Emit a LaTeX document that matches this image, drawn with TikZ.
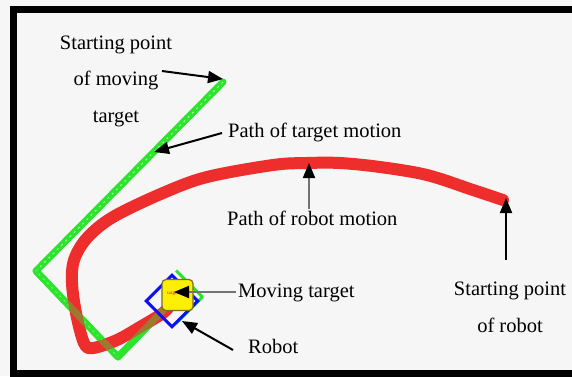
\documentclass[tikz,border=0pt]{standalone}
\usepackage{fontspec}
\setmainfont{Liberation Serif}
\usetikzlibrary{arrows.meta}
\definecolor{paper}{RGB}{246,246,246}
\definecolor{pathgreen}{RGB}{45,228,45}
\definecolor{pathred}{RGB}{238,45,45}
\definecolor{robotblue}{RGB}{15,15,245}
\definecolor{markyellow}{RGB}{252,240,0}
\definecolor{markedge}{RGB}{120,110,40}
\definecolor{leadergray}{RGB}{115,115,115}

\begin{document}
\begin{tikzpicture}[x=1pt,y=-1pt,
  lbl/.style={font=\fontsize{20.5}{36.5}\selectfont, inner sep=0pt, align=center},
  pointer/.style={line width=2pt, -{Triangle[length=15pt,width=12pt,color=black]}},
  greyline/.style={pointer, draw=leadergray},
  trackgreen/.style={draw=pathgreen, line width=7pt, line cap=round, line join=round},
  trackred/.style={draw=pathred, line width=12pt, line cap=round, line join=round}]

% canvas and frame
\useasboundingbox (0,0) rectangle (572,376);
\clip (0,0) rectangle (572,376);
\fill[paper] (0,0) rectangle (572,376);
\draw[line width=7pt] (580,9) -- (13.5,9) -- (13.5,373.5) -- (580,373.5);

% moving target marker and its path
\coordinate (tstart) at (223,82);
\coordinate (tturn1) at (36,271);
\coordinate (tturn2) at (118,357);
\coordinate (tpos) at (176,297);
\draw[pathgreen, line width=3pt, line join=round] (176,270.5) -- (202.5,297) -- (176,323.5);
\draw[trackgreen] (tstart) -- (tturn1) -- (tturn2) -- (tpos);
\draw[green!35!white, line width=1pt, dash pattern=on 2pt off 4pt] (tstart) -- (tturn1) -- (tturn2);

% robot path, with the target path showing through where they overlap
\coordinate (rstart) at (503,200);
\draw[trackred] plot[smooth, tension=0.55] coordinates {
  (503,200) (473,190) (427,175) (380,167) (340,163) (307,163) (273,165)
  (207,177) (163,193) (113,217) (87,238) (74,260) (72,283) (76,313)
  (84,343) (93,348) (117,340) (140,327) (163,313) (171,304)};
\draw[trackgreen, draw opacity=0.42] (tturn1) -- (tturn2) -- (tpos);

% robot and target markers
\node[draw=robotblue, line width=3pt, minimum size=36.5pt, inner sep=0pt, rotate=45] (robot) at (172,301) {};
\node[draw=markedge, fill=markyellow, line width=1.2pt, rounded corners=4pt, minimum size=31pt, inner sep=0pt] (target) at (177.5,295) {};
\node[text=red, font=\fontsize{5}{5}\selectfont, inner sep=0pt] (tgtname) at (173,294) {target};

% labels (base of a multi-line label is its last line)
\node[lbl, anchor=base] (lblmstart) at (116,122) {Starting point\\of moving\\target};
\node[lbl, anchor=base west] (lbltpath) at (228,137) {Path of target motion};
\node[lbl, anchor=base west] (lblrpath) at (227,225) {Path of robot motion};
\node[lbl, anchor=base west] (lbltarget) at (238,297) {Moving target};
\node[lbl, anchor=base west] (lblrobot) at (248,353) {Robot};
\node[lbl, anchor=base] (lblrstart) at (510,332) {Starting point\\of robot};

% pointers
\coordinate (p1a) at (162,71);   \coordinate (p1b) at (223,79);
\coordinate (p2a) at (222,133);  \coordinate (p2b) at (154,152);
\coordinate (p3a) at (309,209);  \coordinate (p3b) at (309,163);
\coordinate (p4a) at (506,260);  \coordinate (p4b) at (506,198);
\coordinate (p5a) at (236,292);  \coordinate (p5b) at (174,292);
\coordinate (p6a) at (233,350);  \coordinate (p6b) at (182,321);
\draw[pointer] (p1a) -- (p1b);
\draw[pointer] (p2a) -- (p2b);
\draw[greyline] (p3a) -- (p3b);
\draw[pointer] (p4a) -- (p4b);
\draw[greyline] (p5a) -- (p5b);
\draw[pointer] (p6a) -- (p6b);
\end{tikzpicture}
\end{document}
